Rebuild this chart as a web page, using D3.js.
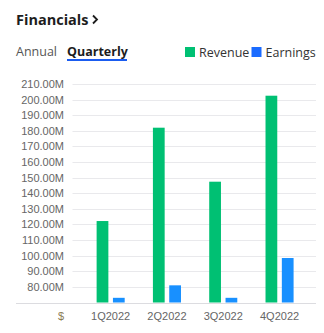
<!DOCTYPE html>
<html><head><meta charset="utf-8">
<script src="https://cdn.jsdelivr.net/npm/d3@7"></script>
<style>
body{margin:0;background:#fff;}
svg{display:block;}
</style></head>
<body>
<svg id="c" width="324" height="333"></svg>
<script>
const categories = ["1Q2022","2Q2022","3Q2022","4Q2022"];
const revenue = [122.2, 182.0, 147.4, 202.5];   // millions
const earnings = [73.0, 81.0, 73.0, 98.5];       // millions
const yTicks = [80,90,100,110,120,130,140,150,160,170,180,190,200,210];
const seriesNames = ["Revenue","Earnings"];

const svg = d3.select("#c");
const sans = "'Open Sans', 'Noto Sans', sans-serif";
const arial = "'Liberation Sans', Arial, sans-serif";

// Header
svg.append("text").attr("x",16).attr("y",24.5).attr("font-family",sans).attr("font-size",14.5)
  .attr("font-weight",700).attr("fill","#1d1d1d").text("Financials");
svg.append("path").attr("d","M93,15.5 L97,19.5 L93,23.5").attr("fill","none").attr("stroke","#1d1d1d").attr("stroke-width",1.8);

svg.append("text").attr("x",16).attr("y",55.5).attr("font-family",sans).attr("font-size",12.5)
  .attr("fill","#555").text("Annual");
svg.append("text").attr("x",67).attr("y",55.5).attr("font-family",sans).attr("font-size",12.5)
  .attr("font-weight",700).attr("fill","#1d1d1d").text("Quarterly");
svg.append("rect").attr("x",67).attr("y",59).attr("width",60).attr("height",2).attr("fill","#1a5cf0");

// Legend
const legColors = ["#00c073","#1a6bff"];
const legX = [185, 251.5];
seriesNames.forEach((n,i)=>{
  svg.append("rect").attr("x",legX[i]).attr("y",47).attr("width",10).attr("height",10).attr("fill",legColors[i]);
  svg.append("text").attr("x",legX[i]+14).attr("y",56.5).attr("font-family",sans).attr("font-size",12.5)
    .attr("fill","#333").text(n);
});

// Scales
const y = d3.scaleLinear().domain([70,210]).range([302.5,84]);
const x0 = d3.scaleBand().domain(categories).range([82.5,307.7]);
const x1 = d3.scaleBand().domain(seriesNames).range([0,x0.bandwidth()]).paddingInner(0.28).paddingOuter(0.865);

// Grid
svg.append("g").selectAll("line").data(yTicks).join("line")
  .attr("x1",72.5).attr("x2",316).attr("y1",d=>Math.round(y(d))+0.5).attr("y2",d=>Math.round(y(d))+0.5)
  .attr("stroke","#e9e9ec").attr("stroke-width",1);
svg.append("line").attr("x1",16).attr("x2",316).attr("y1",Math.round(y(70))+0.5).attr("y2",Math.round(y(70))+0.5)
  .attr("stroke","#dcdce0");

// Y labels
svg.append("g").selectAll("text").data(yTicks).join("text")
  .attr("x",64).attr("y",d=>y(d)+4).attr("text-anchor","end")
  .attr("font-family",arial).attr("font-size",11).attr("fill","#666")
  .text(d=>d3.format(".2f")(d)+"M");

// Bars
const barColors = {"Revenue":"#00c073","Earnings":"#1890ff"};
const data = categories.map((c,i)=>({c, vals:[{k:"Revenue",v:revenue[i]},{k:"Earnings",v:earnings[i]}]}));
const g = svg.append("g");
data.forEach(d=>{
  g.selectAll(null).data(d.vals).join("rect")
    .attr("x",e=>x0(d.c)+x1(e.k)).attr("width",x1.bandwidth())
    .attr("y",e=>y(e.v)).attr("height",e=>y(70)-y(e.v))
    .attr("fill",e=>barColors[e.k]);
});

// X labels
svg.append("g").selectAll("text").data(categories).join("text")
  .attr("x",d=>x0(d)+x0.bandwidth()/2).attr("y",320).attr("text-anchor","middle")
  .attr("font-family",arial).attr("font-size",11).attr("fill","#666").text(d=>d);
svg.append("text").attr("x",61).attr("y",320).attr("text-anchor","middle")
  .attr("font-family",arial).attr("font-size",11).attr("fill","#8a7a55").text("$");
</script>
</body></html>
